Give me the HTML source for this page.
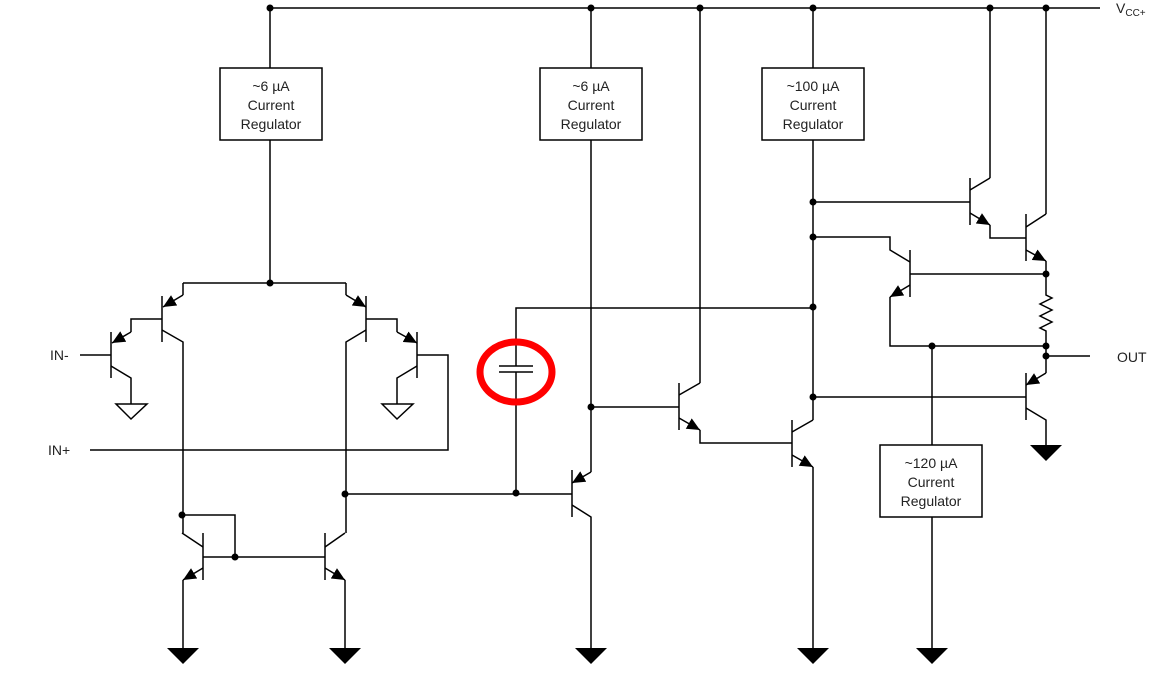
<!DOCTYPE html>
<html><head><meta charset="utf-8"><style>
body{margin:0;background:#fff;}
svg{display:block;}
text{font-family:"Liberation Sans",sans-serif;font-size:14px;fill:#222;}
</style></head><body>
<svg width="1159" height="677" viewBox="0 0 1159 677" xmlns="http://www.w3.org/2000/svg">
<defs>
<marker id="a" markerUnits="userSpaceOnUse" markerWidth="14" markerHeight="12" refX="13" refY="6" orient="auto" viewBox="0 0 14 12">
<path d="M0,0 L13,6 L0,12 Z" fill="#000"/>
</marker>
</defs>
<g stroke="#000" stroke-width="1.5" fill="none">
<!-- top rail -->
<path d="M270,8 H1100"/>
<path d="M270,8 V68 M270,140 V283"/>
<path d="M591,8 V68 M591,140 V472"/>
<path d="M700,8 V383"/>
<path d="M813,8 V68 M813,140 V420"/>
<path d="M990,8 V178"/>
<path d="M1046,8 V214"/>
<!-- boxes -->
<rect x="220" y="68" width="102" height="72"/>
<rect x="540" y="68" width="102" height="72"/>
<rect x="762" y="68" width="102" height="72"/>
<rect x="880" y="445" width="102" height="72"/>
<!-- input stage -->
<path d="M183,283 H346"/>
<path d="M183,283 V295"/>
<path d="M183,295 L163,307" marker-end="url(#a)"/>
<path d="M162,296 V342"/>
<path d="M162,330 L183,342 V533"/>
<path d="M162,319 H131 V332"/>
<path d="M131,332 L112,343" marker-end="url(#a)"/>
<path d="M111,332 V378"/>
<path d="M80,355 H111"/>
<path d="M111,366 L131,378 V404"/>
<path d="M116,404 H147 L131,419 Z"/>
<path d="M346,283 V295"/>
<path d="M346,295 L366,307" marker-end="url(#a)"/>
<path d="M366,296 V342"/>
<path d="M366,330 L346,342 V533"/>
<path d="M366,319 H397 V332"/>
<path d="M397,332 L417,343" marker-end="url(#a)"/>
<path d="M417,332 V378"/>
<path d="M417,355 H448 V450 H90"/>
<path d="M417,366 L397,378 V404"/>
<path d="M382,404 H413 L397,419 Z"/>
<!-- lower mirror -->
<path d="M182,515 H235 V557"/>
<path d="M182,533 L203,547"/>
<path d="M203,533 V580"/>
<path d="M203,557 H325"/>
<path d="M325,533 V580"/>
<path d="M325,547 L345,533"/>
<path d="M203,568 L183,580" marker-end="url(#a)"/>
<path d="M183,580 V650"/>
<path d="M325,568 L345,580" marker-end="url(#a)"/>
<path d="M345,580 V650"/>
<path d="M345,494 H572"/>
<!-- capacitor -->
<path d="M516,494 V372 M516,366 V308 H813"/>
<path d="M499,366 H533 M499,372 H533"/>
<!-- PNP at 572 -->
<path d="M572,470 V517"/>
<path d="M591,472 L572,483" marker-end="url(#a)"/>
<path d="M572,505 L591,517 V650"/>
<!-- 679 transistor -->
<path d="M591,407 H679"/>
<path d="M679,383 V430"/>
<path d="M679,395 L700,383"/>
<path d="M679,418 L700,430" marker-end="url(#a)"/>
<path d="M700,430 V443 H792"/>
<path d="M792,420 V467"/>
<path d="M792,432 L813,420"/>
<path d="M792,455 L813,467" marker-end="url(#a)"/>
<path d="M813,467 V650"/>
<!-- output stage -->
<path d="M813,202 H970"/>
<path d="M970,178 V225"/>
<path d="M970,190 L990,178"/>
<path d="M970,213 L990,225" marker-end="url(#a)"/>
<path d="M990,225 V238 H1026"/>
<path d="M1026,214 V261"/>
<path d="M1026,227 L1046,214"/>
<path d="M1026,250 L1046,261" marker-end="url(#a)"/>
<path d="M1046,261 V295 L1052,298 L1040,304 L1052,310 L1040,316 L1052,322 L1040,328 L1046,331 V373"/>
<path d="M813,237 H890 V250 L910,262"/>
<path d="M910,250 V297"/>
<path d="M910,274 H1046"/>
<path d="M910,285 L890,297" marker-end="url(#a)"/>
<path d="M890,297 V346 H1046"/>
<path d="M932,346 V445 M932,517 V650"/>
<path d="M1046,356 H1090"/>
<path d="M1046,373 L1026,385" marker-end="url(#a)"/>
<path d="M1026,373 V420"/>
<path d="M813,397 H1026"/>
<path d="M1026,408 L1046,420 V447"/>
</g>
<g fill="#000">
<circle cx="270" cy="8" r="3.5"/><circle cx="591" cy="8" r="3.5"/><circle cx="700" cy="8" r="3.5"/>
<circle cx="813" cy="8" r="3.5"/><circle cx="990" cy="8" r="3.5"/><circle cx="1046" cy="8" r="3.5"/>
<circle cx="270" cy="283" r="3.5"/><circle cx="182" cy="515" r="3.5"/><circle cx="235" cy="557" r="3.5"/>
<circle cx="345" cy="494" r="3.5"/><circle cx="516" cy="493" r="3.5"/><circle cx="591" cy="407" r="3.5"/>
<circle cx="813" cy="202" r="3.5"/><circle cx="813" cy="237" r="3.5"/><circle cx="813" cy="307" r="3.5"/>
<circle cx="813" cy="397" r="3.5"/><circle cx="1046" cy="274" r="3.5"/><circle cx="932" cy="346" r="3.5"/>
<circle cx="1046" cy="346" r="3.5"/><circle cx="1046" cy="356" r="3.5"/>
<path d="M167,648 H199 L183,664 Z"/><path d="M329,648 H361 L345,664 Z"/>
<path d="M575,648 H607 L591,664 Z"/><path d="M797,648 H829 L813,664 Z"/>
<path d="M916,648 H948 L932,664 Z"/><path d="M1030,445 H1062 L1046,461 Z"/>
</g>
<ellipse cx="516" cy="372" rx="36" ry="30" fill="none" stroke="#f00" stroke-width="7"/>
<g text-anchor="middle">
<text x="271" y="91">~6 µA</text><text x="271" y="110">Current</text><text x="271" y="129">Regulator</text>
<text x="591" y="91">~6 µA</text><text x="591" y="110">Current</text><text x="591" y="129">Regulator</text>
<text x="813" y="91">~100 µA</text><text x="813" y="110">Current</text><text x="813" y="129">Regulator</text>
<text x="931" y="468">~120 µA</text><text x="931" y="487">Current</text><text x="931" y="506">Regulator</text>
</g>
<text x="50" y="360">IN-</text>
<text x="48" y="455">IN+</text>
<text x="1117" y="362">OUT</text>
<text x="1116" y="13">V<tspan font-size="10" dy="3">CC+</tspan></text>
</svg>
</body></html>
